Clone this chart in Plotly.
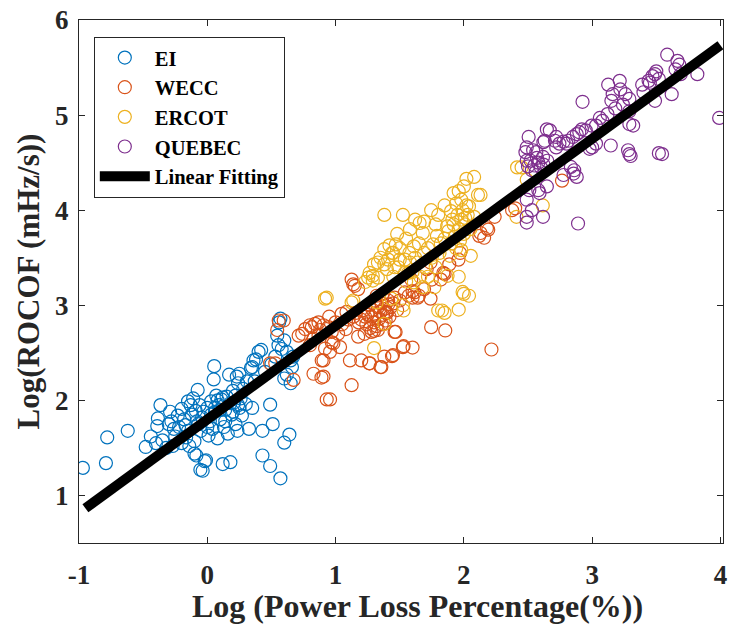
import plotly.graph_objects as go

# ---- data ----
series_names = ["EI", "WECC", "ERCOT", "QUEBEC"]
series_colors = ["#0072BD", "#D95319", "#EDB120", "#7E2F8E"]

ei_points = [
    (-0.97, 1.29), (-0.79, 1.34), (-0.78, 1.61), (-0.62, 1.68), (-0.48, 1.51), (-0.44, 1.62),
    (-0.40, 1.55), (-0.39, 1.73), (-0.385, 1.81), (-0.365, 1.95), (-0.35, 1.58), (-0.32, 1.50),
    (-0.30, 1.75), (-0.29, 1.88), (-0.28, 1.78), (-0.27, 1.52), (-0.26, 1.70), (-0.25, 1.62),
    (-0.23, 1.84), (-0.22, 1.72), (-0.20, 1.91), (-0.20, 1.55), (-0.18, 1.80), (-0.17, 1.74),
    (-0.165, 1.61), (-0.15, 1.99), (-0.15, 1.68), (-0.14, 1.52), (-0.13, 1.95), (-0.12, 1.85),
    (-0.11, 2.02), (-0.10, 1.57), (-0.10, 1.44), (-0.09, 1.89), (-0.085, 1.42), (-0.08, 1.78),
    (-0.075, 2.11), (-0.07, 1.75), (-0.06, 1.95), (-0.054, 1.27), (-0.05, 1.68), (-0.04, 1.82),
    (-0.036, 1.26), (-0.03, 1.88), (-0.02, 1.36), (-0.01, 1.37), (0.00, 1.92), (0.00, 1.72),
    (0.01, 1.63), (0.02, 1.78), (0.03, 1.99), (0.03, 1.85), (0.04, 1.70), (0.05, 2.22),
    (0.054, 2.36), (0.06, 1.88), (0.06, 1.92), (0.07, 2.05), (0.08, 1.60), (0.08, 2.00),
    (0.09, 1.95), (0.10, 1.80), (0.10, 1.90), (0.11, 2.01), (0.12, 1.33), (0.12, 2.03),
    (0.13, 1.72), (0.14, 1.90), (0.14, 1.78), (0.15, 2.04), (0.16, 1.65), (0.17, 2.27),
    (0.18, 1.35), (0.18, 1.97), (0.19, 1.85), (0.20, 2.10), (0.20, 1.88), (0.21, 1.98),
    (0.22, 1.75), (0.22, 2.05), (0.23, 2.25), (0.235, 1.68), (0.24, 2.18), (0.24, 1.95),
    (0.25, 1.92), (0.25, 2.28), (0.26, 2.02), (0.27, 1.84), (0.28, 2.12), (0.30, 1.96),
    (0.31, 2.20), (0.325, 1.70), (0.34, 2.34), (0.35, 1.92), (0.35, 2.35), (0.36, 2.42),
    (0.37, 2.20), (0.38, 2.43), (0.40, 2.51), (0.42, 2.53), (0.43, 1.68), (0.43, 1.42),
    (0.45, 2.30), (0.49, 1.955), (0.49, 1.31), (0.50, 2.38), (0.51, 1.75), (0.53, 2.46),
    (0.555, 2.58), (0.545, 2.68), (0.56, 2.82), (0.57, 1.18), (0.57, 2.86), (0.58, 2.54),
    (0.60, 2.63), (0.60, 2.23), (0.60, 1.555), (0.62, 2.27), (0.62, 2.51), (0.64, 1.64),
    (0.65, 2.18), (0.65, 2.42), (0.66, 2.35), (0.67, 2.46),
]

wecc_points = [
    (0.545, 2.74), (0.557, 2.84), (0.596, 2.84), (0.49, 2.39), (0.53, 2.39), (0.673, 2.215),
    (0.712, 2.68), (0.74, 2.70), (0.763, 2.75), (0.80, 2.79), (0.815, 2.77), (0.84, 2.805),
    (0.867, 2.82), (0.906, 2.79), (0.944, 2.77), (0.97, 2.72), (0.80, 2.58), (0.828, 2.65),
    (0.867, 2.68), (0.892, 2.42), (0.906, 2.42), (0.918, 2.545), (0.957, 2.51), (0.97, 2.61),
    (0.983, 2.60), (1.035, 2.56), (0.828, 2.28), (0.89, 2.24), (0.906, 2.25), (0.931, 2.01),
    (0.957, 2.01), (1.047, 2.91), (1.085, 2.93), (1.112, 2.42), (1.125, 2.16), (1.138, 3.22),
    (1.15, 3.205), (1.125, 3.27), (1.176, 3.17), (1.176, 2.67), (1.20, 2.42), (1.226, 2.70),
    (1.262, 2.39), (1.267, 2.39), (1.30, 2.73), (1.35, 2.35), (1.357, 2.35), (1.38, 2.805),
    (1.38, 2.46), (1.395, 2.93), (1.41, 3.01), (1.44, 2.465), (1.447, 2.475), (1.46, 3.08),
    (1.46, 2.72), (1.468, 2.72), (1.525, 2.56), (1.53, 2.57), (1.54, 3.135), (1.60, 3.08),
    (1.60, 2.555), (1.60, 3.15), (1.57, 3.10), (1.59, 3.27), (1.615, 3.135), (1.64, 3.08),
    (1.65, 3.10), (1.69, 3.17), (1.71, 3.38), (1.74, 3.45), (1.74, 3.07), (1.745, 2.77),
    (1.75, 3.27), (1.82, 3.27), (1.84, 3.34), (1.85, 3.33), (1.855, 2.735), (1.886, 3.43),
    (1.958, 3.48), (1.97, 3.55), (2.12, 3.73), (2.13, 3.76), (2.158, 3.71), (2.18, 3.81),
    (2.19, 3.795), (2.215, 2.535), (2.24, 3.93), (2.376, 4.0), (2.40, 4.02), (2.765, 4.31),
    (1.20, 2.85), (1.22, 2.95), (1.24, 2.80), (1.25, 2.90), (1.26, 3.00), (1.27, 2.76),
    (1.28, 2.88), (1.29, 2.95), (1.30, 2.82), (1.30, 3.05), (1.31, 2.90), (1.32, 2.78),
    (1.33, 2.98), (1.34, 2.86), (1.35, 2.93), (1.36, 2.80), (1.36, 3.02), (1.37, 2.90),
    (1.38, 2.96), (1.39, 2.84), (1.40, 2.92), (1.41, 3.05), (1.42, 2.88), (1.43, 2.98),
    (1.28, 2.72), (1.33, 2.74), (1.23, 2.88), (1.18, 2.82), (1.16, 2.92), (1.14, 2.88),
    (1.10, 2.85), (1.05, 2.80), (1.08, 2.75), (1.32, 3.10), (1.37, 3.12), (1.45, 3.02),
    (1.48, 2.95), (1.50, 3.05), (1.00, 2.82), (0.95, 2.88), (1.02, 2.70), (0.88, 2.74),
]

ercot_points = [
    (0.918, 3.07), (0.931, 3.08), (1.125, 3.03), (1.138, 3.05), (1.23, 3.245), (1.254, 3.29),
    (1.265, 3.34), (1.29, 3.31), (1.29, 3.26), (1.30, 3.43), (1.30, 2.55), (1.32, 3.03),
    (1.33, 3.45), (1.33, 3.29), (1.38, 3.43), (1.38, 3.59), (1.38, 3.95), (1.38, 2.805),
    (1.41, 3.48), (1.42, 3.63), (1.435, 3.07), (1.44, 3.55), (1.46, 3.40), (1.47, 3.64),
    (1.49, 3.40), (1.50, 3.48), (1.525, 3.95), (1.525, 3.0), (1.53, 2.945), (1.54, 3.34),
    (1.54, 3.48), (1.565, 3.34), (1.575, 3.55), (1.61, 3.24), (1.61, 3.62), (1.64, 3.45),
    (1.655, 3.865), (1.68, 3.19), (1.68, 3.76), (1.69, 3.88), (1.69, 3.55), (1.745, 4.0),
    (1.76, 3.64), (1.77, 3.19), (1.79, 3.73), (1.80, 2.945), (1.81, 3.55), (1.83, 2.945),
    (1.85, 2.92), (1.87, 3.83), (1.873, 3.31), (1.90, 3.99), (1.91, 3.90), (1.94, 4.07),
    (1.96, 2.955), (1.96, 3.30), (1.98, 4.11), (1.99, 3.14), (2.0, 3.12), (2.01, 3.92),
    (2.02, 4.33), (2.04, 4.04), (2.04, 3.10), (2.054, 3.52), (2.08, 3.93), (2.08, 4.35),
    (2.11, 4.16), (2.13, 4.16), (2.415, 4.45), (2.45, 4.45), (2.49, 4.32), (2.41, 3.93),
    (2.615, 4.05), (1.85, 3.70), (1.88, 3.78), (1.90, 3.65), (1.92, 3.85), (1.93, 3.72),
    (1.95, 3.95), (1.96, 3.80), (1.97, 3.68), (1.98, 3.90), (1.99, 4.00), (2.00, 3.75),
    (2.01, 3.85), (2.02, 4.05), (2.03, 3.95), (2.05, 3.80), (1.94, 3.60), (1.98, 3.58),
    (1.89, 3.52), (1.45, 3.55), (1.50, 3.60), (1.55, 3.70), (1.58, 3.45), (1.62, 3.50),
    (1.65, 3.65), (1.70, 3.40), (1.72, 3.60), (1.75, 3.50), (1.78, 3.85), (1.82, 3.65),
    (1.55, 3.25), (1.60, 3.35), (1.66, 3.30), (1.72, 3.30), (1.78, 3.40), (1.45, 3.30),
    (1.40, 3.38), (1.35, 3.50), (1.48, 3.75), (1.58, 3.80), (1.62, 3.90), (1.92, 4.18),
    (1.96, 4.20), (2.00, 4.25), (1.85, 4.05), (1.80, 3.95),
]

quebec_points = [
    (2.48, 4.61), (2.49, 4.66), (2.49, 4.52), (2.49, 4.11), (2.49, 3.87), (2.49, 3.93),
    (2.50, 4.46), (2.505, 4.77), (2.51, 4.21), (2.52, 4.52), (2.53, 4.42), (2.53, 4.0),
    (2.54, 4.63), (2.55, 4.47), (2.56, 4.40), (2.565, 4.61), (2.57, 4.55), (2.58, 4.50),
    (2.58, 4.21), (2.59, 4.18), (2.60, 4.45), (2.617, 4.56), (2.617, 3.93), (2.62, 4.715),
    (2.62, 4.48), (2.63, 4.73), (2.647, 4.85), (2.647, 4.25), (2.65, 4.52), (2.67, 4.84),
    (2.71, 4.73), (2.72, 4.66), (2.72, 4.77), (2.745, 4.70), (2.777, 4.72), (2.777, 4.37),
    (2.80, 4.70), (2.815, 4.73), (2.834, 4.455), (2.85, 4.77), (2.855, 4.385), (2.86, 4.42),
    (2.88, 4.80), (2.88, 4.35), (2.89, 3.86), (2.90, 4.82), (2.92, 4.85), (2.925, 5.14),
    (2.95, 4.84), (2.98, 4.645), (3.0, 4.66), (2.996, 4.89), (3.03, 4.70), (3.03, 4.89),
    (3.06, 4.97), (3.08, 4.94), (3.12, 5.01), (3.125, 5.32), (3.145, 4.68), (3.15, 5.15),
    (3.16, 5.22), (3.18, 5.07), (3.215, 5.36), (3.22, 5.27), (3.24, 5.11), (3.26, 5.22),
    (3.28, 4.63), (3.29, 5.17), (3.29, 4.906), (3.29, 5.04), (3.29, 4.59), (3.30, 4.57),
    (3.32, 4.89), (3.39, 5.32), (3.40, 5.24), (3.44, 5.36), (3.45, 5.34), (3.47, 5.41),
    (3.49, 5.43), (3.49, 5.15), (3.50, 5.46), (3.52, 5.38), (3.52, 4.60), (3.545, 4.59),
    (3.585, 5.635), (3.62, 5.22), (3.65, 5.48), (3.665, 5.57), (3.68, 5.53), (3.69, 5.43),
    (3.82, 5.43), (3.99, 4.97),
]

fit_x = [-0.95, 4.0]
fit_y = [0.865, 5.735]

x_ticks = [-1, 0, 1, 2, 3, 4]
y_ticks = [1, 2, 3, 4, 5, 6]

x_title = "Log (Power Loss Percentage(%))"
y_title = "Log(ROCOF (mHz/s))"

FONT = "Liberation Serif, Times New Roman, serif"
AX = "#262626"

fig = go.Figure()
for name, color, pts in zip(series_names, series_colors,
                            [ei_points, wecc_points, ercot_points, quebec_points]):
    fig.add_trace(go.Scatter(
        x=[p[0] for p in pts], y=[p[1] for p in pts], mode="markers", name=name,
        marker=dict(symbol="circle-open", size=13, color=color, line=dict(width=1.2)),
    ))

fig.add_trace(go.Scatter(x=fit_x, y=fit_y, mode="lines", name="Linear Fitting",
                         line=dict(color="black", width=10)))

axis_common = dict(
    showgrid=False, zeroline=False, showline=True, linecolor=AX, linewidth=1.2,
    mirror="ticks", ticks="inside", ticklen=6, tickcolor=AX, tickwidth=1.2,
    tickfont=dict(family=FONT, size=27, color=AX, weight="bold"),
)

fig.update_layout(
    width=732, height=630,
    margin=dict(l=79, r=5, t=16, b=87),
    paper_bgcolor="white", plot_bgcolor="white",
    xaxis=dict(range=[-1, 4.02], tickvals=x_ticks, ticktext=[str(v) for v in x_ticks],
               ticklabelstandoff=7, **axis_common),
    yaxis=dict(range=[0.5, 6], tickvals=y_ticks, ticktext=[str(v) for v in y_ticks],
               ticklabelstandoff=4,
               title=dict(text=y_title, standoff=6,
                          font=dict(family=FONT, size=31, color=AX, weight="bold")),
               **axis_common),
    legend=dict(x=0.023, y=0.968, xanchor="left", yanchor="top",
                bgcolor="white", bordercolor=AX, borderwidth=1,
                font=dict(family=FONT, size=20.5, color="black", weight="bold"),
                itemwidth=50, tracegroupgap=0),
    showlegend=True,
    annotations=[dict(text=x_title, xref="paper", yref="paper", x=0.526, y=-0.083,
                      xanchor="center", yanchor="top", showarrow=False,
                      font=dict(family=FONT, size=32, color=AX, weight="bold"))],
)

fig.write_html("out.html")
